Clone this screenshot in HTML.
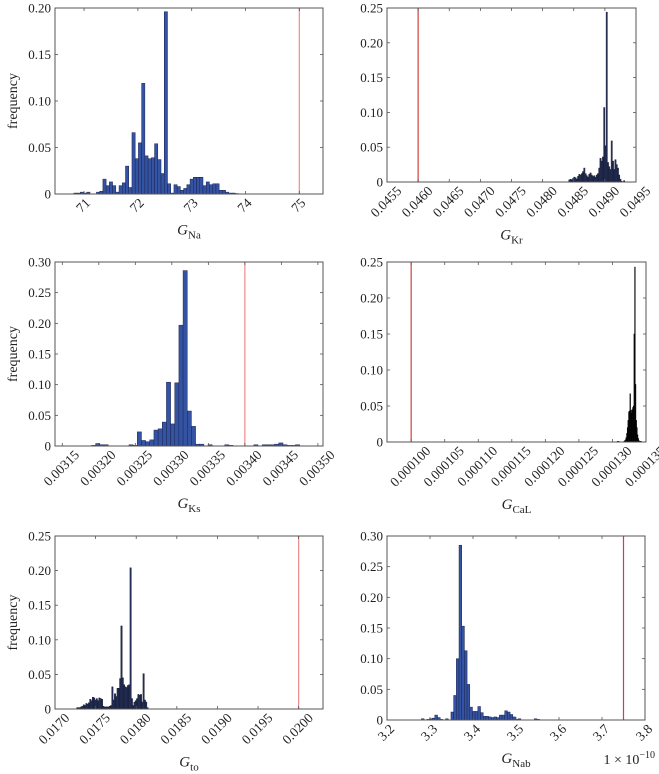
<!DOCTYPE html>
<html><head><meta charset="utf-8"><style>
html,body{margin:0;padding:0;background:#fff;}
svg{display:block;font-family:"Liberation Serif","Times New Roman",serif;}
svg text{font-family:"Liberation Serif","Times New Roman",serif;}
</style></head><body>
<svg id="chart" width="659" height="774" viewBox="0 0 659 774" xmlns="http://www.w3.org/2000/svg"></svg>
<script>
// ---- data ----
const naStart = 70.81, naWidth = 0.06, naRef = 75;
const naFreq = [0.001,0.001,0.002,0.001,0.002,0,0,0.002,0.003,0.016,0.009,0.013,0.009,0.002,0.009,0.012,0.030,0.007,0.066,0.038,0.055,0.119,0.041,0.038,0.039,0.054,0.037,0.022,0.196,0.011,0.001,0.010,0.008,0.004,0.006,0.010,0.016,0.018,0.018,0.018,0.009,0.013,0.010,0.011,0.011,0.004,0.004,0.002,0.001,0.001,0.0005];
const naTicks = [71,72,73,74,75];
const naTickLabels = ["71","72","73","74","75"];
const naYTicks = [0,0.05,0.10,0.15,0.20];
const naYLabels = ["0","0.05","0.10","0.15","0.20"];

const krStart = 0.04842, krWidth = 0.00002, krRef = 0.0460;
const krFreq = [0.003,0.004,0.003,0.005,0.007,0.006,0.004,0.008,0.011,0.010,0.012,0.015,0.020,0.012,0.009,0.007,0.011,0.013,0.010,0.008,0.009,0.007,0.010,0.012,0.020,0.034,0.030,0.036,0.107,0.052,0.244,0.028,0.022,0.018,0.059,0.030,0.018,0.032,0.025,0.020,0.010,0.004,0.001,0,0.002];
const krTicks = [0.0455,0.0460,0.0465,0.0470,0.0475,0.0480,0.0485,0.0490,0.0495];
const krTickLabels = ["0.0455","0.0460","0.0465","0.0470","0.0475","0.0480","0.0485","0.0490","0.0495"];
const krYTicks = [0,0.05,0.10,0.15,0.20,0.25];
const krYLabels = ["0","0.05","0.10","0.15","0.20","0.25"];

const ksStart = 0.00319, ksWidth = 0.0000057, ksRef = 0.00340;
const ksFreq = [0.001,0.004,0.002,0.002,0,0,0,0,0,0.002,0.001,0.023,0.009,0.007,0.010,0.026,0.028,0.039,0.104,0.036,0.103,0.197,0.286,0.057,0.032,0.003,0.003,0,0.002,0,0,0,0.002,0.001,0,0,0,0,0,0.002,0,0.002,0.002,0.002,0.003,0.005,0.002,0.001,0.001,0.002];
const ksTicks = [0.00315,0.00320,0.00325,0.00330,0.00335,0.00340,0.00345,0.00350];
const ksTickLabels = ["0.00315","0.00320","0.00325","0.00330","0.00335","0.00340","0.00345","0.00350"];
const ksYTicks = [0,0.05,0.10,0.15,0.20,0.25,0.30];
const ksYLabels = ["0","0.05","0.10","0.15","0.20","0.25","0.30"];

const calStart = 0.0001307, calWidth = 0.0000001, calRef = 0.000100;
const calFreq = [0.001,0,0.001,0,0,0,0,0,0,0,0.001,0.002,0.003,0.006,0.012,0.020,0.030,0.042,0.043,0.067,0.044,0.040,0.045,0.048,0.050,0.150,0.243,0.080,0.030,0.020,0.010,0.005,0.002,0.001,0.001,0.001];
const calTicks = [0.000100,0.000105,0.000110,0.000115,0.000120,0.000125,0.000130,0.000135];
const calTickLabels = ["0.000100","0.000105","0.000110","0.000115","0.000120","0.000125","0.000130","0.000135"];
const calYTicks = [0,0.05,0.10,0.15,0.20,0.25];
const calYLabels = ["0","0.05","0.10","0.15","0.20","0.25"];

const toStart = 0.017267, toWidth = 0.000016, toRef = 0.0200;
const toFreq = [0.002,0.002,0.002,0.003,0.004,0.006,0.005,0.008,0.007,0.009,0.014,0.012,0.017,0.016,0.013,0.015,0.012,0.016,0.015,0.014,0.004,0.003,0.003,0.003,0.003,0.004,0.005,0.032,0.013,0.022,0.018,0.030,0.030,0.044,0.120,0.045,0.035,0.032,0.031,0.034,0.035,0.204,0.015,0.005,0.010,0.012,0.015,0.021,0.020,0.021,0.010,0.051,0.013,0.010,0.002];
const toTicks = [0.0170,0.0175,0.0180,0.0185,0.0190,0.0195,0.0200];
const toTickLabels = ["0.0170","0.0175","0.0180","0.0185","0.0190","0.0195","0.0200"];
const toYTicks = [0,0.05,0.10,0.15,0.20,0.25];
const toYLabels = ["0","0.05","0.10","0.15","0.20","0.25"];

const nabStart = 3.28, nabWidth = 0.00625, nabRef = 3.75;
const nabFreq = [0.002,0,0.001,0.002,0.003,0.008,0.004,0.001,0,0.002,0,0.013,0.040,0.100,0.285,0.153,0.113,0.058,0.021,0.014,0.014,0.022,0.012,0.006,0.006,0.005,0.004,0.005,0.004,0.008,0.008,0.015,0.013,0.009,0.005,0.001,0.002,0,0,0,0,0,0.002,0.001];
const nabTicks = [3.2,3.3,3.4,3.5,3.6,3.7,3.8];
const nabTickLabels = ["3.2","3.3","3.4","3.5","3.6","3.7","3.8"];
const nabYTicks = [0,0.05,0.10,0.15,0.20,0.25,0.30];
const nabYLabels = ["0","0.05","0.10","0.15","0.20","0.25","0.30"];

const NS = "http://www.w3.org/2000/svg";
const svg = document.getElementById('chart');
function mk(tag, attrs, parent){
  const e = document.createElementNS(NS, tag);
  for (const k in attrs) e.setAttribute(k, attrs[k]);
  (parent||svg).appendChild(e);
  return e;
}

function panel(key, box, xmin, xmax, ymax, start, width, freq, ref, ticks, tickLabels, yTicks, yLabels, fill, stroke, refColor, sub, showY){
  const g = mk('g', {});
  
  
  const xs = v => box.x0 + (v - xmin) / (xmax - xmin) * (box.x1 - box.x0);
  const ys = v => box.y1 - v / ymax * (box.y1 - box.y0);
  for (let i = 0; i < freq.length; i++){
    if (freq[i] <= 0) continue;
    const a = xs(start + i*width), b = xs(start + (i+1)*width);
    const r = mk('rect', {x:a, y:ys(freq[i]), width:Math.max(b-a,0.6), height:box.y1-ys(freq[i]), fill:fill, stroke:stroke, 'stroke-width':0.5}, g);
    
    
  }
  const rl = mk('line', {x1:xs(ref), x2:xs(ref), y1:box.y0, y2:box.y1, stroke:refColor, 'stroke-width':1.2}, g);
  
  
  const fr = mk('rect', {x:box.x0, y:box.y0, width:box.x1-box.x0, height:box.y1-box.y0, fill:'none', stroke:'#555', 'stroke-width':1}, g);
  
  
  let maxExt = 0;
  ticks.forEach((t, i) => {
    const x = xs(t);
    mk('line', {x1:x, x2:x, y1:box.y1, y2:box.y1-3, stroke:'#555', 'stroke-width':0.8}, g);
    mk('line', {x1:x, x2:x, y1:box.y0, y2:box.y0+3, stroke:'#555', 'stroke-width':0.8}, g);
    const tx = mk('text', {x:0, y:0, 'font-size':13.5, 'text-anchor':'middle', 'dominant-baseline':'central', fill:'#222'}, g);
    tx.textContent = tickLabels[i];
    
    
    let w = tickLabels[i].length * 6.75;
    try { const m = tx.getComputedTextLength(); if (m > 0) w = m; } catch(e){}
    const ext = (w + 10) * 0.707;
    maxExt = Math.max(maxExt, ext);
    const cx = x - 1, cy = box.y1 + 3 + ext / 2;
    tx.setAttribute('transform', `translate(${cx} ${cy}) rotate(-45)`);
  });
  yTicks.forEach((t, i) => {
    const y = ys(t);
    mk('line', {x1:box.x0, x2:box.x0+3, y1:y, y2:y, stroke:'#555', 'stroke-width':0.8}, g);
    mk('line', {x1:box.x1, x2:box.x1-3, y1:y, y2:y, stroke:'#555', 'stroke-width':0.8}, g);
    const ty = mk('text', {x:box.x0-4, y:y+4.5, 'font-size':13, 'text-anchor':'end', fill:'#222'}, g);
    ty.textContent = yLabels[i];
    
    
  });
  const xl = mk('text', {x:(box.x0+box.x1)/2, y:box.y1 + 3 + maxExt + 21, 'font-size':15, 'text-anchor':'middle', fill:'#222'}, g);
  
  
  const t1 = mk('tspan', {'font-style':'italic'}, xl); t1.textContent = 'G';
  const t2 = mk('tspan', {'font-size':11, dy:4}, xl); t2.textContent = sub;
  if (showY){
    const yl = mk('text', {x:0, y:0, 'font-size':14, 'text-anchor':'middle', fill:'#222', transform:`translate(17 ${(box.y0+box.y1)/2}) rotate(-90)`}, g);
    yl.textContent = 'frequency';
    
    
  }
}

const BLUE = '#3553a3', BLUE_E = '#1b2450', DARK = '#26325e', DARK_E = '#141a30';
panel('g-na', {x0:55,x1:323,y0:8,y1:194}, 70.46, 75.44, 0.20, naStart, naWidth, naFreq, naRef, naTicks, naTickLabels, naYTicks, naYLabels, BLUE, BLUE_E, '#f08a8a', 'Na', true);
panel('g-kr', {x0:387,x1:636,y0:8,y1:182}, 0.0455, 0.0495, 0.25, krStart, krWidth, krFreq, krRef, krTicks, krTickLabels, krYTicks, krYLabels, DARK, DARK_E, '#d04040', 'Kr', false);
panel('g-ks', {x0:55,x1:323,y0:262,y1:446}, 0.00314, 0.003507, 0.30, ksStart, ksWidth, ksFreq, ksRef, ksTicks, ksTickLabels, ksYTicks, ksYLabels, BLUE, BLUE_E, '#f08a8a', 'Ks', true);
panel('g-cal', {x0:387,x1:646,y0:262,y1:442}, 0.0000964, 0.000135, 0.25, calStart, calWidth, calFreq, calRef, calTicks, calTickLabels, calYTicks, calYLabels, '#111', '#000', '#d04040', 'CaL', false);
panel('g-to', {x0:55,x1:323,y0:536,y1:709}, 0.0170, 0.0203, 0.25, toStart, toWidth, toFreq, toRef, toTicks, toTickLabels, toYTicks, toYLabels, DARK, DARK_E, '#f08a8a', 'to', true);
panel('g-nab', {x0:387,x1:645,y0:536,y1:720}, 3.2, 3.8, 0.30, nabStart, nabWidth, nabFreq, nabRef, nabTicks, nabTickLabels, nabYTicks, nabYLabels, BLUE, BLUE_E, '#d04040', 'Nab', false);

const ex = mk('text', {x:655, y:764, 'font-size':14, 'text-anchor':'end', fill:'#222'});


const e1 = mk('tspan', {}, ex); e1.textContent = '1 × 10';
const e2 = mk('tspan', {'font-size':10, dy:-6}, ex); e2.textContent = '−10';
</script>
</body></html>
